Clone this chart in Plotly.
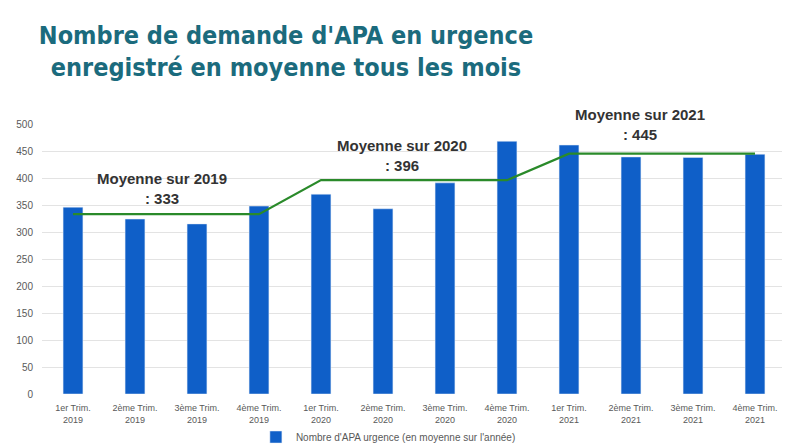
import plotly.graph_objects as go

categories = [
    "1er Trim.<br>2019", "2ème Trim.<br>2019", "3ème Trim.<br>2019", "4ème Trim.<br>2019",
    "1er Trim.<br>2020", "2ème Trim.<br>2020", "3ème Trim.<br>2020", "4ème Trim.<br>2020",
    "1er Trim.<br>2021", "2ème Trim.<br>2021", "3ème Trim.<br>2021", "4ème Trim.<br>2021",
]
demandes = [346, 324, 315, 348, 370, 343, 391, 468, 461, 439, 438, 444]
moyenne_annuelle = [333, 333, 333, 333, 396, 396, 396, 396, 445, 445, 445, 445]

annot_labels = ["Moyenne sur 2019<br>: 333", "Moyenne sur 2020<br>: 396", "Moyenne sur 2021<br>: 445"]
annot_x = [1.44, 5.31, 9.15]
annot_y = [380, 441, 500]

fig = go.Figure()

fig.add_trace(go.Bar(
    x=list(range(12)),
    y=demandes,
    name="Nombre d'APA urgence (en moyenne sur l'année)",
    marker_color="#0f5fc8",
    width=0.32,
))

fig.add_trace(go.Scatter(
    x=list(range(12)),
    y=moyenne_annuelle,
    mode="lines",
    line=dict(color="#2a8a2a", width=2.2),
    showlegend=False,
))

for label, ax, ay in zip(annot_labels, annot_x, annot_y):
    fig.add_annotation(
        x=ax, y=ay, text="<b>" + label + "</b>", showarrow=False,
        font=dict(family="Liberation Sans, Arial", size=15, color="#333333"),
        xanchor="center", yanchor="middle",
    )

# page body adds an 8px margin, so the figure is sized to fit the window
fig.update_layout(
    width=782, height=438,
    margin=dict(l=34, r=4, t=116, b=52),
    paper_bgcolor="white",
    plot_bgcolor="white",
    title=dict(
        text="Nombre de demande d'APA en urgence<br>enregistré en moyenne tous les mois",
        x=0.3555, xanchor="center", xref="container",
        y=0.918, yanchor="top", yref="container",
        font=dict(family="DejaVu Sans Condensed, Liberation Sans", size=25, color="#1b6b7d", weight="bold"),
    ),
    xaxis=dict(
        tickmode="array", tickvals=list(range(12)), ticktext=categories,
        range=[-0.5, 11.5], automargin=False, ticklabelstandoff=7,
        tickfont=dict(family="Liberation Sans, Arial", size=9, color="#595959"),
        showgrid=False, zeroline=False, showline=False,
    ),
    yaxis=dict(
        range=[0, 500], dtick=50, automargin=False, ticklabelstandoff=8,
        tickfont=dict(family="Liberation Sans, Arial", size=10, color="#595959"),
        gridcolor="#e3e3e3", zeroline=False, showline=False,
    ),
    legend=dict(
        orientation="h", xref="container", x=0.317, xanchor="left",
        yref="container", y=0.0205, yanchor="middle",
        font=dict(family="Liberation Sans, Arial", size=10, color="#595959"),
        itemwidth=30,
    ),
    bargap=0.68,
)

fig.write_html("out.html")
